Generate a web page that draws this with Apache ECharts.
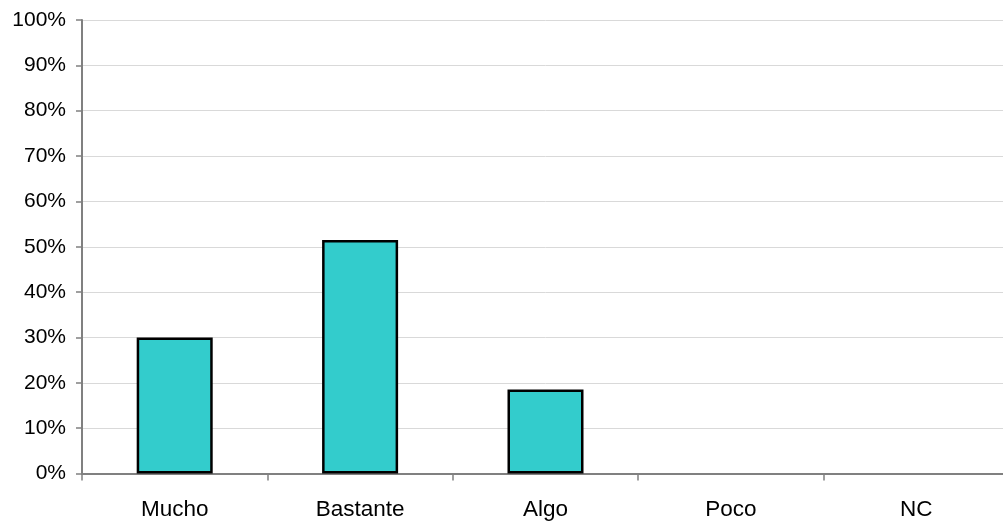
<!DOCTYPE html>
<html><head><meta charset="utf-8">
<script src="https://cdn.jsdelivr.net/npm/echarts@6/dist/echarts.min.js"></script>
<style>html,body{margin:0;padding:0;background:#fff;overflow:hidden}#c{width:1012px;height:524px}</style>
</head><body><div id="c"></div>
<script>
const categories = ["Mucho", "Bastante", "Algo", "Poco", "NC"];
const values = [30, 51.5, 18.5, 0, 0];
const yTicks = [0, 10, 20, 30, 40, 50, 60, 70, 80, 90, 100];

const chart = echarts.init(document.getElementById('c'), null, {renderer: 'canvas'});
chart.setOption({
  animation: false,
  backgroundColor: '#fff',
  grid: {left: 82, top: 20, height: 453.5, width: 927, containLabel: false},
  xAxis: {
    type: 'category', data: categories, boundaryGap: true,
    axisLine: {lineStyle: {color: '#808080', width: 2}},
    axisTick: {show: true, alignWithLabel: false, length: 7, lineStyle: {color: '#808080', width: 1.5}},
    axisLabel: {color: '#000', fontFamily: 'Liberation Sans', fontSize: 22.5, margin: 25}
  },
  yAxis: {
    type: 'value', min: yTicks[0], max: yTicks[yTicks.length - 1], interval: 10,
    axisLine: {show: true, lineStyle: {color: '#808080', width: 2}},
    axisTick: {show: true, length: 6, inside: false, lineStyle: {color: '#808080', width: 1.5}},
    axisLabel: {color: '#000', fontFamily: 'Liberation Sans', fontSize: 21, margin: 16, formatter: '{value}%'},
    splitLine: {show: true, lineStyle: {color: '#d9d9d9', width: 1}}
  },
  series: [{
    type: 'bar', barWidth: '41%',
    data: values.map(v => v === 0 ? {value: v, itemStyle: {borderWidth: 0}} : v),
    itemStyle: {color: '#33CCCC', borderColor: '#000', borderWidth: 2.5}
  }]
});
</script></body></html>
